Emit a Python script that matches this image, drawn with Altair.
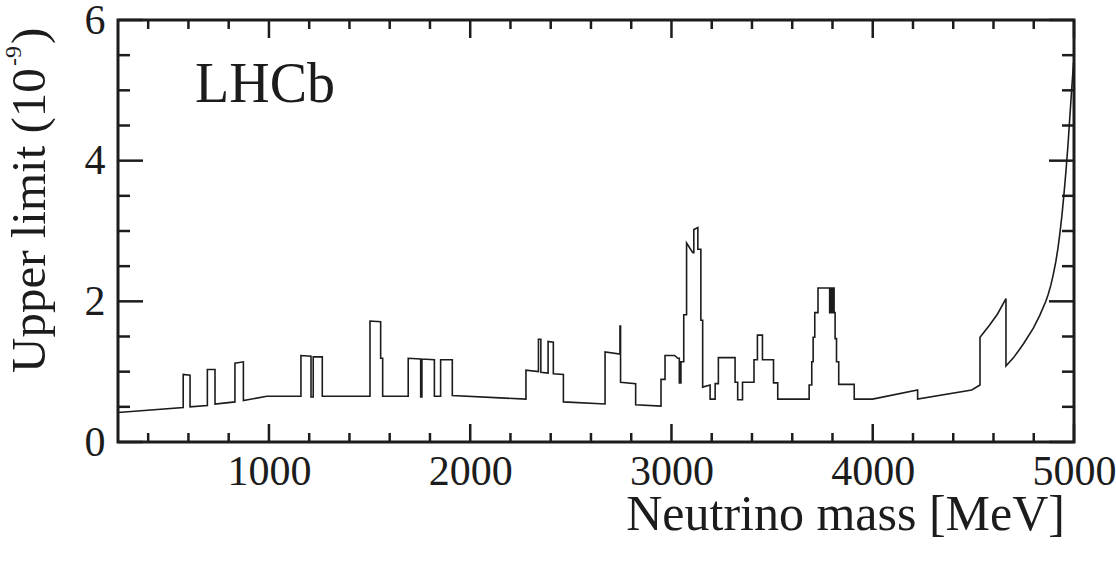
import altair as alt
import pandas as pd

FONT = "Liberation Serif"
INK = "#1c1c1c"
W, H = 956, 422

# Upper limit curve: neutrino mass [MeV] and limit [1e-9]; repeated masses give vertical steps
masses = [
    250, 574, 574, 608, 608, 694, 694, 732, 732, 831, 831, 873, 873, 989,
    1159, 1159, 1209, 1209, 1220, 1220, 1265, 1265,
    1502, 1502, 1555, 1555, 1565, 1565,
    1692, 1692, 1754, 1754, 1760, 1760, 1822, 1822, 1853, 1853, 1911, 1911,
    2277, 2277, 2339, 2339, 2351, 2351, 2387, 2387, 2413, 2413, 2463, 2463,
    2670, 2670, 2744, 2744, 2747, 2747, 2822, 2822,
    2948, 2948, 2968, 2968, 3016, 3031, 3039, 3039, 3047, 3047, 3061, 3061,
    3075, 3075, 3106, 3111, 3111, 3131, 3131, 3146, 3146, 3155, 3155,
    3192, 3192, 3217, 3217, 3233, 3233, 3316, 3316, 3329, 3329, 3353, 3353,
    3410, 3410, 3427, 3427, 3452, 3452, 3507, 3507, 3528, 3528,
    3684, 3684, 3697, 3697, 3704, 3704, 3712, 3712, 3728, 3728,
    3786, 3786, 3790, 3790, 3795, 3795, 3800, 3800, 3808, 3808,
    3813, 3813, 3820, 3820, 3831, 3831, 3908, 3908,
    3999, 4223, 4223, 4492, 4533, 4533, 4580, 4620, 4662, 4662,
    4700, 4750, 4798, 4830, 4860, 4872, 4885, 4897, 4910, 4920,
    4930, 4940, 4950, 4960, 4970, 4980, 4990, 4998,
]
limits = [
    0.42, 0.49, 0.96, 0.95, 0.50, 0.52, 1.03, 1.03, 0.54, 0.57, 1.12, 1.14, 0.59, 0.65,
    0.65, 1.23, 1.22, 0.64, 0.64, 1.21, 1.21, 0.65,
    0.65, 1.72, 1.71, 1.19, 1.19, 0.65,
    0.65, 1.19, 1.18, 0.64, 0.64, 1.18, 1.17, 0.65, 0.65, 1.17, 1.17, 0.66,
    0.61, 1.02, 1.00, 1.46, 1.46, 0.99, 0.98, 1.43, 1.42, 0.97, 0.96, 0.57,
    0.54, 1.28, 1.25, 1.65, 1.65, 0.85, 0.83, 0.53,
    0.51, 0.89, 0.89, 1.23, 1.23, 1.19, 1.19, 0.84, 0.84, 1.14, 1.14, 1.81,
    1.81, 2.83, 2.69, 2.69, 3.02, 3.05, 2.74, 2.74, 1.73, 1.73, 0.78,
    0.81, 0.61, 0.61, 0.83, 0.83, 1.20, 1.20, 0.85, 0.85, 0.60, 0.60, 0.85,
    0.85, 1.17, 1.17, 1.52, 1.52, 1.17, 1.17, 0.84, 0.84, 0.61,
    0.61, 0.81, 0.81, 1.14, 1.14, 1.49, 1.49, 1.84, 1.84, 2.19,
    2.19, 1.84, 1.84, 2.19, 2.19, 1.84, 1.84, 2.19, 2.19, 1.84,
    1.84, 1.47, 1.47, 1.14, 1.14, 0.82, 0.82, 0.61,
    0.61, 0.74, 0.61, 0.74, 0.81, 1.49, 1.66, 1.82, 2.04, 1.08,
    1.20, 1.40, 1.62, 1.80, 2.00, 2.10, 2.23, 2.38, 2.57, 2.75,
    2.97, 3.22, 3.52, 3.85, 4.22, 4.65, 5.08, 5.40,
]

x_labels = [1000, 2000, 3000, 4000, 5000]
x_minor = [400, 600, 800, 1200, 1400, 1600, 1800, 2200, 2400, 2600, 2800,
           3200, 3400, 3600, 3800, 4200, 4400, 4600, 4800]
y_labels = [0, 2, 4, 6]
y_minor = [0.5, 1, 1.5, 2.5, 3, 3.5, 4.5, 5, 5.5]

xs = alt.Scale(domain=[250, 5000], nice=False, zero=False)
ys = alt.Scale(domain=[0, 6], nice=False, zero=False)

# shared axis definitions so every layer agrees on them
x_axis = alt.Axis(values=x_labels, format="d", ticks=False, domain=False,
                  grid=False, labelFont=FONT, labelFontSize=42,
                  labelColor=INK, labelPadding=9, labelFlush=False,
                  labelOverlap=False, title=None)
y_axis = alt.Axis(values=y_labels, format="d", ticks=False, domain=False,
                  grid=False, labelFont=FONT, labelFontSize=42,
                  labelColor=INK, labelPadding=13, labelFlush=False,
                  labelOverlap=False, title=None)

curve = pd.DataFrame({"mass": masses, "limit": limits, "i": range(len(masses))})

line = alt.Chart(curve).mark_line(color=INK, strokeWidth=1.6, clip=True).encode(
    x=alt.X("mass:Q", scale=xs, axis=x_axis, title=None),
    y=alt.Y("limit:Q", scale=ys, axis=y_axis, title=None),
    order="i:Q",
)


def x_ticks(vals, length, top):
    y0 = 0 if top else H
    y1 = length if top else H - length
    return alt.Chart(pd.DataFrame({"m": vals})).mark_rule(
        color=INK, strokeWidth=2.5).encode(
        x=alt.X("m:Q", scale=xs, axis=x_axis, title=None),
        y=alt.value(y0), y2=alt.value(y1))


def y_ticks(vals, length, right):
    x0 = W if right else 0
    x1 = W - length if right else length
    return alt.Chart(pd.DataFrame({"v": vals})).mark_rule(
        color=INK, strokeWidth=2.5).encode(
        y=alt.Y("v:Q", scale=ys, axis=y_axis, title=None),
        x=alt.value(x0), x2=alt.value(x1))


ticks = [
    x_ticks(x_labels, 18, False), x_ticks(x_minor, 9, False),
    x_ticks(x_labels, 18, True), x_ticks(x_minor, 9, True),
    y_ticks(y_labels, 25, False), y_ticks(y_minor, 12, False),
    y_ticks(y_labels, 25, True), y_ticks(y_minor, 12, True),
]

one = pd.DataFrame({"a": [0]})


def label(text, x, y, size, angle=0, align="left"):
    return alt.Chart(one).mark_text(
        text=text, font=FONT, fontSize=size, color=INK, angle=angle,
        align=align, baseline="alphabetic").encode(x=alt.value(x), y=alt.value(y))


texts = [
    label("LHCb", 77, 82, 56),
    label("Neutrino mass [MeV]", 947, 510, 50, align="right"),
    label("Upper limit (10", -73, 353, 49, angle=270),
    label("-9", -97, 46, 24, angle=270),
    label(")", -73, 24, 49, angle=270),
]

chart = alt.layer(line, *ticks, *texts).properties(
    width=W, height=H,
    padding={"left": 118, "top": 20, "right": 42, "bottom": 119},
    autosize="none",
    background="white",
).configure_view(stroke=INK, strokeWidth=3)

chart.save("out.html", embed_options={"renderer": "svg", "actions": False})
